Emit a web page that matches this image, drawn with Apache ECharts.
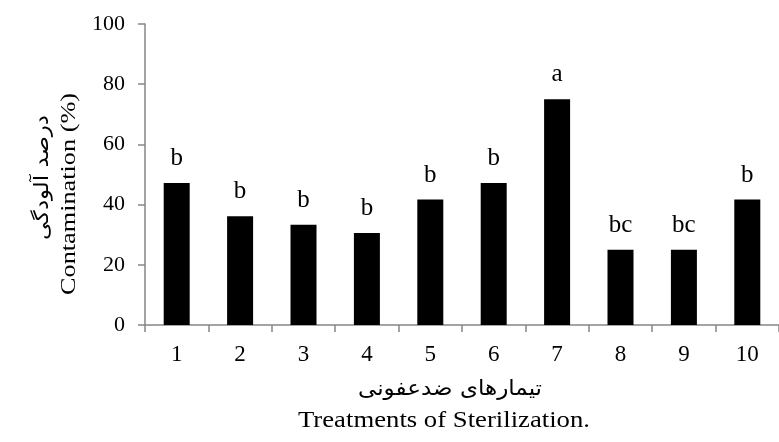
<!DOCTYPE html>
<html>
<head>
<meta charset="utf-8">
<script src="https://cdn.jsdelivr.net/npm/echarts@6/dist/echarts.min.js"></script>
<style>html,body{margin:0;padding:0;background:#fff}#c{width:779px;height:442px}</style>
</head>
<body>
<div id="c"></div>
<script>
const categories = ['1','2','3','4','5','6','7','8','9','10'];
const contamination = [47.2, 36.1, 33.3, 30.6, 41.7, 47.2, 75, 25, 25, 41.7];
const groupLetters = ['b','b','b','b','b','b','a','bc','bc','b'];
const yTitleFa = 'درصد آلودگی';
const yTitleEn = 'Contamination (%)';
const xTitleFa = 'تیمارهای ضدعفونی';
const xTitleEn = 'Treatments of Sterilization.';

const serif = '"Liberation Serif", "Times New Roman", "DejaVu Sans", serif';

// measure text so stretched titles reach the reference length
const mctx = document.createElement('canvas').getContext('2d');
function fitScale(text, font, targetLen) {
  mctx.font = font;
  const w = mctx.measureText(text).width;
  return w > 0 ? targetLen / w : 1;
}
const fFaY = '20px "DejaVu Sans", serif';
const fEnY = '22px "Liberation Serif", serif';
const fFaX = '21px "DejaVu Sans", serif';
const fEnX = '22.5px "Liberation Serif", serif';

const chart = echarts.init(document.getElementById('c'), null, {renderer: 'canvas'});
chart.setOption({
  animation: false,
  backgroundColor: '#fff',
  grid: {left: 145, right: -6, top: 24, bottom: 117, containLabel: false},
  xAxis: {
    type: 'category',
    data: categories,
    axisLine: {lineStyle: {color: '#868686', width: 1.5}},
    axisTick: {show: true, length: 7, lineStyle: {color: '#868686', width: 1.5}},
    axisLabel: {color: '#000', fontFamily: serif, fontSize: 23, margin: 18}
  },
  yAxis: {
    type: 'value', min: 0, max: 100, interval: 20,
    axisLine: {show: true, lineStyle: {color: '#868686', width: 1.5}},
    axisTick: {show: true, length: 7, lineStyle: {color: '#868686', width: 1.5}},
    splitLine: {show: false},
    axisLabel: {color: '#000', fontFamily: serif, fontSize: 22, margin: 20}
  },
  series: [{
    type: 'bar',
    data: contamination,
    barWidth: 26,
    itemStyle: {color: '#000'},
    label: {
      show: true, position: 'top', distance: 12,
      color: '#000', fontFamily: serif, fontSize: 25,
      formatter: p => groupLetters[p.dataIndex]
    }
  }],
  graphic: [
    {type: 'text', x: 43, y: 177.5, rotation: Math.PI/2, scaleX: fitScale(yTitleFa, fFaY, 125), scaleY: 1,
     style: {text: yTitleFa, font: fFaY, fill: '#000', textAlign: 'center', textVerticalAlign: 'middle'}},
    {type: 'text', x: 69, y: 194, rotation: Math.PI/2, scaleX: fitScale(yTitleEn, fEnY, 202), scaleY: 1,
     style: {text: yTitleEn, font: fEnY, fill: '#000', textAlign: 'center', textVerticalAlign: 'middle'}},
    {type: 'text', x: 450, y: 390, scaleX: fitScale(xTitleFa, fFaX, 184), scaleY: 1,
     style: {text: xTitleFa, font: fFaX, fill: '#000', textAlign: 'center', textVerticalAlign: 'middle'}},
    {type: 'text', x: 444, y: 421, scaleX: fitScale(xTitleEn, fEnX, 292), scaleY: 1,
     style: {text: xTitleEn, font: fEnX, fill: '#000', textAlign: 'center', textVerticalAlign: 'middle'}}
  ]
});
</script>
</body>
</html>
